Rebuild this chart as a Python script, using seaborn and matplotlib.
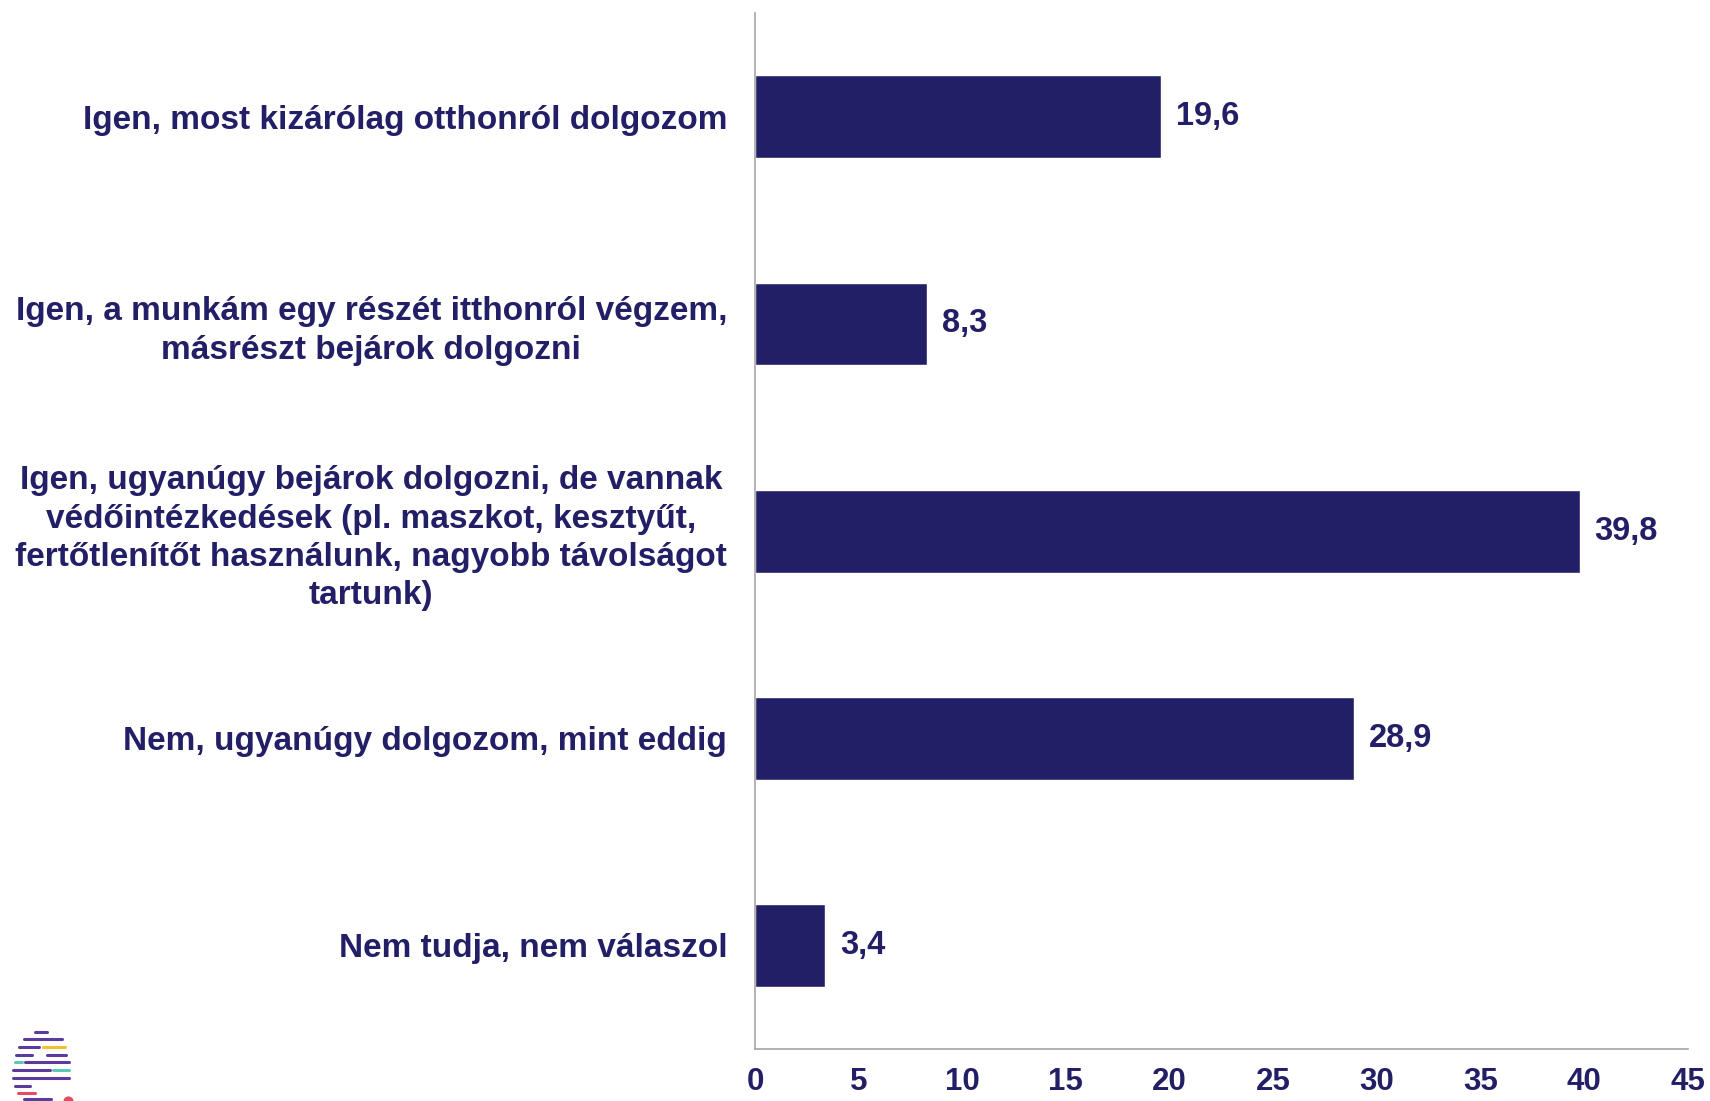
import matplotlib
matplotlib.use("Agg")
import matplotlib.pyplot as plt
import seaborn as sns
import pandas as pd

categories = [
    "Igen, most kizárólag otthonról dolgozom",
    "Igen, a munkám egy részét itthonról végzem,\nmásrészt bejárok dolgozni",
    "Igen, ugyanúgy bejárok dolgozni, de vannak\nvédőintézkedések (pl. maszkot, kesztyűt,\nfertőtlenítőt használunk, nagyobb távolságot\ntartunk)",
    "Nem, ugyanúgy dolgozom, mint eddig",
    "Nem tudja, nem válaszol",
]
values = [19.6, 8.3, 39.8, 28.9, 3.4]
xticks = [0, 5, 10, 15, 20, 25, 30, 35, 40, 45]

NAVY = "#231F66"
sns.set_theme(style="white")
plt.rcParams['font.family'] = ['Liberation Sans', 'DejaVu Sans']

df = pd.DataFrame({"cat": categories, "val": values})

fig = plt.figure(figsize=(17.1, 11.01), dpi=100)
ax = fig.add_axes([0.4415, 0.0472, 0.5455, 0.9408])
sns.barplot(data=df, x="val", y="cat", color=NAVY, saturation=1, width=0.4, ax=ax,
            orient="h")
ax.set_xlim(0, 45)
ax.set_ylim(4.5, -0.5)
ax.set_xticks(xticks)
ax.set_xticklabels([str(t) for t in xticks], fontsize=22.5, fontweight='bold', color=NAVY)
ax.set_yticks(range(len(categories)))
ax.set_yticklabels(categories, fontsize=24, fontweight='bold', color=NAVY,
                   multialignment='center', linespacing=1.3)
ax.tick_params(axis='x', length=0, pad=13)
ax.tick_params(axis='y', length=0, pad=20)
ax.set_xlabel("")
ax.set_ylabel("")
for s in ["top", "right"]:
    ax.spines[s].set_visible(False)
for s in ["left", "bottom"]:
    ax.spines[s].set_color("#A6A6A6")
    ax.spines[s].set_linewidth(1.2)

for i, v in enumerate(values):
    ax.text(v + 0.7, i, f"{v:.1f}".replace(".", ","), va='center', ha='left',
            fontsize=23.5, fontweight='bold', color=NAVY)

# small decorative logo
lax = fig.add_axes([0.005, 0.0, 0.045, 0.07])
lax.set_xlim(0, 10)
lax.set_ylim(0, 10)
lax.axis('off')
stripes = [
    (3.5, 5.0, 9.0, "#5B3C9E"), (2.0, 7.0, 8.0, "#5B3C9E"), (1.3, 4.0, 7.0, "#5B3C9E"),
    (4.5, 7.3, 7.0, "#F2C12E"), (1.0, 3.0, 6.0, "#5B3C9E"), (5.0, 7.5, 6.0, "#5B3C9E"),
    (0.8, 1.8, 5.0, "#5CC8B5"), (2.2, 7.8, 5.0, "#5B3C9E"), (0.6, 5.4, 4.0, "#5B3C9E"),
    (5.8, 7.8, 4.0, "#5CC8B5"), (0.6, 7.8, 3.0, "#5B3C9E"), (0.8, 2.8, 2.0, "#5B3C9E"),
    (1.2, 3.4, 1.0, "#E84A5F"), (2.0, 5.5, 0.2, "#5B3C9E"),
]
for x0, x1, y, c in stripes:
    lax.plot([x0, x1], [y, y], color=c, lw=2.2, solid_capstyle='round')
lax.scatter([7.7], [0.0], s=40, color="#E84A5F", clip_on=False)

fig.savefig("out.png", dpi=100)
